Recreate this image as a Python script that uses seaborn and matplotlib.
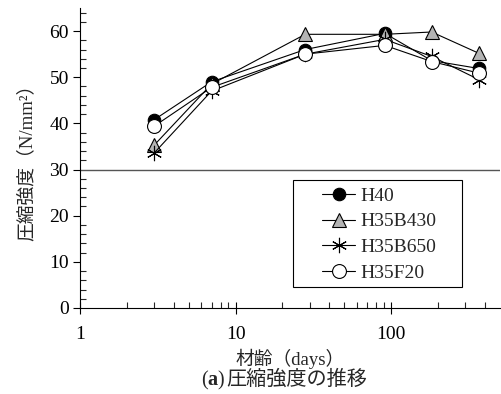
import matplotlib
matplotlib.use("Agg")
import matplotlib.pyplot as plt
import seaborn as sns
import pandas as pd
from matplotlib.patches import Rectangle
from matplotlib.ticker import FixedLocator, NullFormatter, MultipleLocator

sns.set_theme(style="white")
plt.rcParams['font.family'] = ['Liberation Serif', 'Noto Sans CJK JP']
plt.rcParams['mathtext.fontset'] = 'custom'
plt.rcParams['mathtext.rm'] = 'Liberation Serif'
plt.rcParams['mathtext.bf'] = 'Liberation Serif:bold'

days = [3, 7, 28, 91, 182, 365]
series_names = ["H40", "H35B430", "H35B650", "H35F20"]
h40 = [40.8, 49.0, 56.0, 59.5, 53.6, 51.9]
h35b430 = [35.3, 48.5, 59.3, 59.3, 59.8, 55.2]
h35b650 = [33.6, 47.0, 55.0, 58.2, 54.5, 49.5]
h35f20 = [39.4, 47.8, 55.0, 56.9, 53.4, 50.9]
values = [h40, h35b430, h35b650, h35f20]

markers = ["o", "^", (6, 2, 0), "o"]
faces = ["black", "#b4b4b4", "black", "white"]
sizes = [9, 10, 11, 10]

fig = plt.figure(figsize=(5.02, 3.94), dpi=100)
ax = fig.add_axes([80/502, 1 - 308/394, 420/502, 300/394])

for name, vals, m, fc, s in zip(series_names, values, markers, faces, sizes):
    df = pd.DataFrame({"days": days, "val": vals})
    sns.lineplot(data=df, x="days", y="val", ax=ax, color="black", lw=0.8,
                 marker=m, markersize=s, markerfacecolor=fc,
                 markeredgecolor="black", markeredgewidth=0.8, label=name)

ax.axhline(30, color="#555555", lw=1.0, zorder=0)
ax.set_xscale("log")
ax.set_xlim(1, 500)
ax.set_ylim(0, 65)
ax.xaxis.set_major_locator(FixedLocator([1, 10, 100]))
ax.set_xticklabels(["1", "10", "100"])
ax.xaxis.set_minor_locator(FixedLocator([2,3,4,5,6,7,8,9,20,30,40,50,60,70,80,90,200,300,400]))
ax.xaxis.set_minor_formatter(NullFormatter())
ax.yaxis.set_major_locator(FixedLocator([0,10,20,30,40,50,60]))
ax.yaxis.set_minor_locator(MultipleLocator(2))
ax.tick_params(axis="x", which="major", direction="inout", length=8, width=0.8,
               labelsize=14, colors="black", pad=9, bottom=True)
ax.tick_params(axis="x", which="minor", direction="in", length=4, width=0.8, bottom=True)
ax.tick_params(axis="y", which="major", direction="out", length=5, width=0.8,
               labelsize=14, colors="black", pad=3, left=True)
ax.tick_params(axis="y", which="minor", direction="in", length=4, width=0.8, left=True)
for sp in ["top", "right"]:
    ax.spines[sp].set_visible(False)
for sp in ["left", "bottom"]:
    ax.spines[sp].set_color("black")
    ax.spines[sp].set_linewidth(0.8)

ax.set_xlabel("材齢（days）", fontsize=13.5, labelpad=4)
ax.set_ylabel("圧縮強度（N/mm²）", fontsize=13.5, labelpad=10)
cap_x = 226/502
cap_y = 1 - 380/394
fig.text(cap_x, cap_y, r"($\mathbf{a}$)", fontsize=14.5, ha="right", va="center")
fig.text(cap_x, cap_y, "圧縮強度の推移", fontsize=14.5, ha="left", va="center")

# legend frame
ax.add_patch(Rectangle(((293-80)/420, (308-287)/300), 169/420, 107/300,
                       transform=ax.transAxes, facecolor="white", edgecolor="black",
                       lw=0.8, zorder=4))
leg = ax.legend(loc="upper left", bbox_to_anchor=((322-80)/420, (308-187)/300),
                frameon=False, fontsize=14, handlelength=1.7, borderpad=0,
                labelspacing=0.42, handletextpad=0.3, borderaxespad=0)
leg.set_zorder(5)

fig.savefig("out.png", dpi=100)
